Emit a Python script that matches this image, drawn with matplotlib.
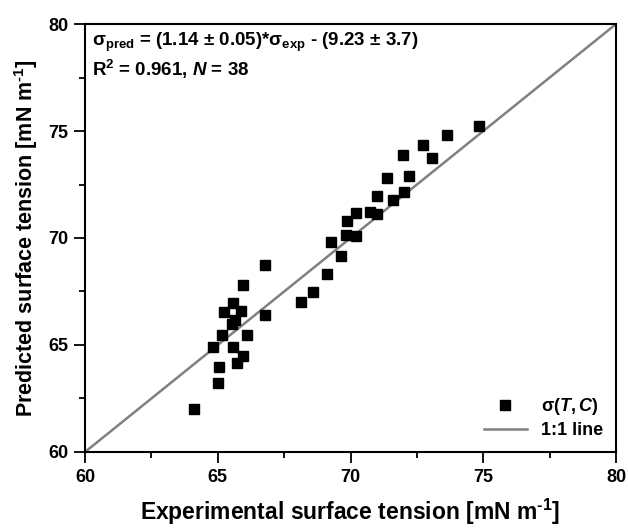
import numpy as np
import matplotlib
matplotlib.use("Agg")
import matplotlib.pyplot as plt
from matplotlib.ticker import MultipleLocator

plt.rcParams["font.family"] = ["Liberation Sans", "DejaVu Sans"]
plt.rcParams["font.weight"] = "bold"
plt.rcParams["mathtext.fontset"] = "custom"
plt.rcParams["mathtext.rm"] = "Liberation Sans:bold"
plt.rcParams["mathtext.bf"] = "Liberation Sans:bold"
plt.rcParams["mathtext.it"] = "Liberation Sans:bold:italic"

# experimental vs predicted surface tension (mN/m)
sigma_exp = [64.12, 65.02, 65.06, 65.74, 65.95, 65.59, 64.81, 65.17, 66.10, 65.54,
             65.66, 65.25, 65.89, 65.59, 66.79, 65.95, 66.79, 68.14, 68.60, 69.11,
             69.65, 69.28, 69.81, 70.21, 69.88, 70.21, 70.73, 71.00, 71.00, 71.61,
             72.02, 71.39, 72.22, 71.98, 73.08, 72.71, 73.65, 74.85]
sigma_pred = [62.00, 63.21, 63.96, 64.16, 64.47, 64.89, 64.89, 65.45, 65.45, 65.96,
              66.17, 66.54, 66.57, 66.95, 66.39, 67.80, 68.72, 67.00, 67.48, 68.33,
              69.17, 69.83, 70.12, 70.07, 70.78, 71.17, 71.20, 71.10, 71.95, 71.76,
              72.14, 72.79, 72.90, 73.88, 73.72, 74.33, 74.80, 75.22]
one_to_one = [60, 80]

fig = plt.figure(figsize=(6.28, 5.29), dpi=100)
ax = fig.add_axes([0.1354, 0.1456, 0.8456, 0.809])

ax.plot(sigma_exp, sigma_pred, "s", color="black", markersize=6.5,
        label=r"$\mathrm{\sigma(}\mathit{T},\mathit{C}\mathrm{)}$", zorder=3)
ax.plot(one_to_one, one_to_one, "-", color="#808080", lw=1.8, label="1:1 line")

ax.set_xlim(60, 80)
ax.set_ylim(60, 80)
ax.xaxis.set_major_locator(MultipleLocator(5))
ax.yaxis.set_major_locator(MultipleLocator(5))
ax.xaxis.set_minor_locator(MultipleLocator(2.5))
ax.yaxis.set_minor_locator(MultipleLocator(2.5))
ax.tick_params(which="major", direction="out", length=8, width=1.3,
               labelsize=13, pad=4, top=False, right=False)
ax.tick_params(which="minor", direction="out", length=4.5, width=1.3,
               top=False, right=False)
for s in ax.spines.values():
    s.set_linewidth(1.5)

ax.set_xlabel(r"Experimental surface tension [mN m$^{\text{-1}}$]", fontsize=16.5,
              fontweight="bold", labelpad=8)
ax.set_ylabel(r"Predicted surface tension [mN m$^{\text{-1}}$]", fontsize=15.5,
              fontweight="bold", labelpad=6)

ax.text(0.013, 0.985,
        r"$\mathrm{\sigma}_{\rm pred}$ = (1.14 ± 0.05)*$\mathrm{\sigma}_{\rm exp}$ - (9.23 ± 3.7)"
        "\n" r"R$^2$ = 0.961, $\mathit{N}$ = 38",
        transform=ax.transAxes, ha="left", va="top", fontsize=13.5,
        fontweight="bold", linespacing=1.25)

ax.legend(loc="lower right", frameon=False, fontsize=13, handlelength=2.4,
          borderaxespad=0.3, labelspacing=0.3, numpoints=1)

fig.savefig("out.png", dpi=100)
